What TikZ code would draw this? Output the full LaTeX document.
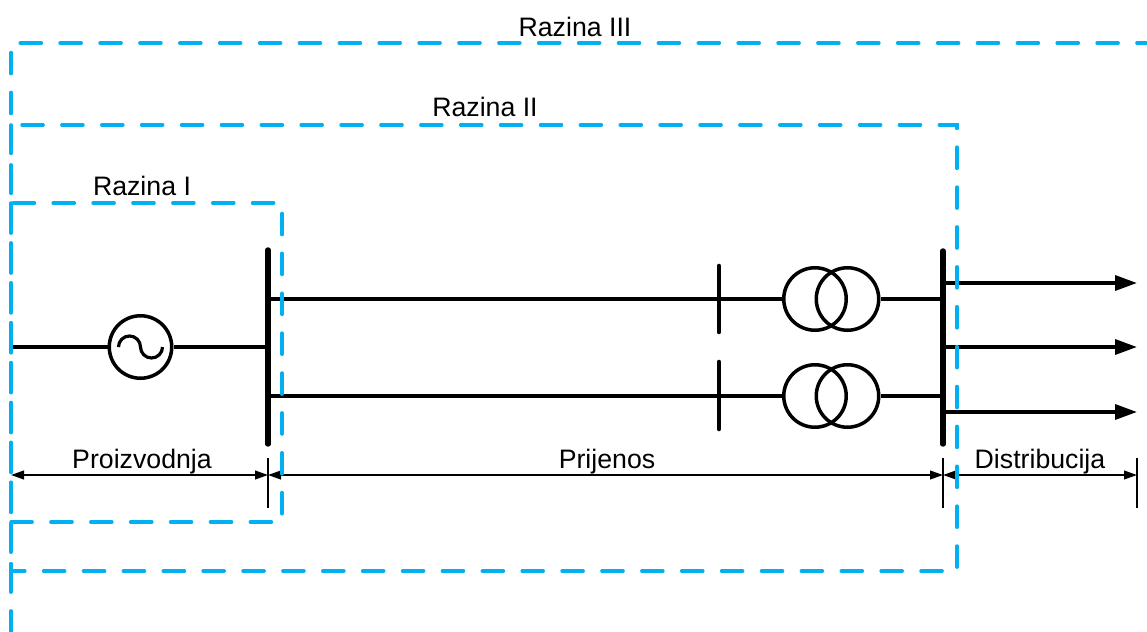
\documentclass[tikz,border=0pt]{standalone}
\usepackage{fontspec}
\setmainfont{Liberation Sans}
\usetikzlibrary{arrows.meta,calc}
\definecolor{razblue}{RGB}{0,176,240}
\begin{document}
\begin{tikzpicture}[x=0.02cm,y=-0.02cm,
  level/.style={draw=razblue,line width=2pt,line cap=round,dash pattern=on 12pt off 10.7pt},
  wire/.style={line width=2pt},
  busbar/.style={line width=3.1pt,line cap=round},
  breaker/.style={line width=2.6pt,line cap=round},
  dim/.style={line width=0.9pt},
  dimtip/.style={{Triangle[length=7.4pt,width=5pt]}-{Triangle[length=7.4pt,width=5pt]}},
  outarrow/.style={line width=2pt,-{Triangle[length=12.5pt,width=8.5pt]}},
  lab/.style={font=\fontsize{15.2}{18}\selectfont,anchor=base,inner sep=0pt},
  ring/.style={circle,draw,line width=2pt,minimum size=1.25cm,inner sep=0pt},
  ]
\useasboundingbox (0,0) rectangle (1147,632);

% generator
\coordinate (src) at (11,347);
\node[ring] (gen) at (140.5,347) {};
\draw[line width=1.8pt] ($(gen.center)+(-22,0)$) arc[start angle=180,end angle=360,radius=11]
      arc[start angle=180,end angle=0,radius=11];

% bus bars
\coordinate (b1t) at (268,250);
\coordinate (b1b) at (268,444);
\coordinate (b2t) at (943,251);
\coordinate (b2b) at (943,444);
\draw[busbar] (b1t) -- (b1b);
\draw[busbar] (b2t) -- (b2b);

\coordinate (b1g) at (268,347);
\coordinate (b1a) at (268,299);
\coordinate (b1c) at (268,396);
\coordinate (b2a) at (943,299);
\coordinate (b2c) at (943,396);

% breakers
\coordinate (k1t) at (719,266);
\coordinate (k1b) at (719,332);
\coordinate (k2t) at (719,362);
\coordinate (k2b) at (719,429);
\draw[breaker] (k1t) -- (k1b);
\draw[breaker] (k2t) -- (k2b);

% transformers
\node[ring] (T1a) at (815,299) {};
\node[ring] (T1b) at (847.5,299) {};
\node[ring] (T2a) at (815,396) {};
\node[ring] (T2b) at (847.5,396) {};

% wires
\draw[wire] (src) -- (gen.west);
\draw[wire] (gen.east) -- (b1g);
\draw[wire] (b1a) -- (T1a.west);
\draw[wire] (T1b.east) -- (b2a);
\draw[wire] (b1c) -- (T2a.west);
\draw[wire] (T2b.east) -- (b2c);

% outgoing feeders
\coordinate (o1s) at (943,283);
\coordinate (o1e) at (1137,283);
\coordinate (o2s) at (943,347);
\coordinate (o2e) at (1137,347);
\coordinate (o3s) at (943,412);
\coordinate (o3e) at (1137,412);
\draw[outarrow] (o1s) -- (o1e);
\draw[outarrow] (o2s) -- (o2e);
\draw[outarrow] (o3s) -- (o3e);

% dimension lines
\coordinate (d0) at (11,475);
\coordinate (d1) at (268,475);
\coordinate (d2) at (943,475);
\coordinate (d3) at (1137,475);
\coordinate (t1a) at (268,458);
\coordinate (t1b) at (268,508);
\coordinate (t2a) at (943,458);
\coordinate (t2b) at (943,508);
\coordinate (t3a) at (1137,458);
\coordinate (t3b) at (1137,508);
\draw[dim] (t1a) -- (t1b);
\draw[dim] (t2a) -- (t2b);
\draw[dim] (t3a) -- (t3b);
\draw[dim,dimtip] (d0) -- (d1);
\draw[dim,dimtip] (d1) -- (d2);
\draw[dim,dimtip] (d2) -- (d3);

\node[lab] (lp) at (142,468) {Proizvodnja};
\node[lab] (lr) at (607,468) {Prijenos};
\node[lab] (ld) at (1040,468) {Distribucija};

% levels
\draw[level] (11,632) -- (11,43) -- (1147,43);
\draw[level] (11,125) rectangle (957,571);
\draw[level] (11,203) rectangle (282,522);
\node[lab] (r3) at (575,36) {Razina III};
\node[lab] (r2) at (485,116) {Razina II};
\node[lab] (r1) at (142,195) {Razina I};
\end{tikzpicture}
\end{document}
